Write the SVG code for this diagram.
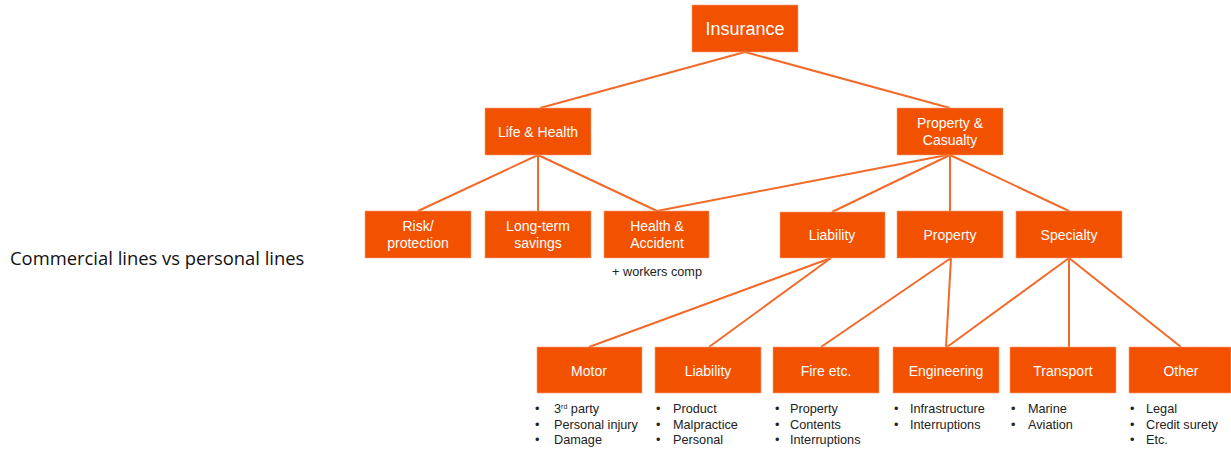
<svg xmlns="http://www.w3.org/2000/svg" width="1231" height="450" viewBox="0 0 1231 450">
<style>
.box{fill:#F25100;stroke:#F5A07A;stroke-width:0.6}
.t{font-family:"Liberation Sans",Arial,sans-serif;font-size:14px;fill:#ffffff;text-anchor:middle}
.big{font-size:18px}
.b{font-family:"Liberation Sans",Arial,sans-serif;font-size:12.7px;fill:#222222}
.c line{stroke:#F26A2A;stroke-width:2}
</style>
<rect width="1231" height="450" fill="#ffffff"/>
<text x="10" y="265" style="font-family:'Open Sans',sans-serif;font-size:18.4px;fill:#111111">Commercial lines vs personal lines</text>
<g class="c" id="connectors">
<line x1="745" y1="52" x2="540" y2="108"/>
<line x1="745" y1="52" x2="950" y2="108"/>
<line x1="538" y1="155" x2="418" y2="211"/>
<line x1="538" y1="155" x2="538" y2="211"/>
<line x1="538" y1="155" x2="657" y2="211"/>
<line x1="947" y1="155" x2="657" y2="211"/>
<line x1="950" y1="155" x2="832" y2="212"/>
<line x1="950" y1="155" x2="950" y2="211"/>
<line x1="950" y1="155" x2="1069" y2="211"/>
<line x1="831" y1="258" x2="589" y2="347"/>
<line x1="831" y1="258" x2="709" y2="347"/>
<line x1="951" y1="258" x2="821" y2="347"/>
<line x1="951" y1="258" x2="946" y2="347"/>
<line x1="1069" y1="258" x2="947" y2="347"/>
<line x1="1069" y1="258" x2="1069" y2="347"/>
<line x1="1069" y1="258" x2="1181" y2="347"/>
</g>
<g id="insurance"><rect class="box" x="692" y="5" width="106" height="47"/><text class="t big" x="745" y="35">Insurance</text></g>
<g id="life-health"><rect class="box" x="485" y="108" width="106" height="47"/><text class="t" x="538" y="137">Life &amp; Health</text></g>
<g id="property-casualty"><rect class="box" x="897" y="108" width="106" height="47"/><text class="t" x="950" y="128">Property &amp;</text><text class="t" x="950" y="145">Casualty</text></g>
<g id="risk"><rect class="box" x="365" y="211" width="106" height="47"/><text class="t" x="418" y="231">Risk/</text><text class="t" x="418" y="248">protection</text></g>
<g id="long-term"><rect class="box" x="485" y="211" width="106" height="47"/><text class="t" x="538" y="231">Long-term</text><text class="t" x="538" y="248">savings</text></g>
<g id="health-accident"><rect class="box" x="604" y="211" width="105" height="47"/><text class="t" x="657" y="231">Health &amp;</text><text class="t" x="657" y="248">Accident</text><text class="b" x="657" y="276" text-anchor="middle">+ workers comp</text></g>
<g id="liability-pc"><rect class="box" x="780" y="212" width="105" height="46"/><text class="t" x="832" y="240">Liability</text></g>
<g id="property"><rect class="box" x="897" y="211" width="106" height="47"/><text class="t" x="950" y="240">Property</text></g>
<g id="specialty"><rect class="box" x="1016" y="211" width="106" height="47"/><text class="t" x="1069" y="240">Specialty</text></g>
<g id="motor"><rect class="box" x="537" y="347" width="105" height="46"/><text class="t" x="589" y="376">Motor</text>
<text class="b" x="535" y="413">•</text><text class="b" x="554" y="413">3<tspan font-size="7" dy="-4">rd</tspan><tspan dy="4"> party</tspan></text>
<text class="b" x="535" y="429">•</text><text class="b" x="554" y="429">Personal injury</text>
<text class="b" x="535" y="444">•</text><text class="b" x="554" y="444">Damage</text></g>
<g id="liability"><rect class="box" x="655" y="347" width="106" height="46"/><text class="t" x="708" y="376">Liability</text>
<text class="b" x="656" y="413">•</text><text class="b" x="673" y="413">Product</text>
<text class="b" x="656" y="429">•</text><text class="b" x="673" y="429">Malpractice</text>
<text class="b" x="656" y="444">•</text><text class="b" x="673" y="444">Personal</text></g>
<g id="fire"><rect class="box" x="773" y="347" width="106" height="46"/><text class="t" x="826" y="376">Fire etc.</text>
<text class="b" x="775" y="413">•</text><text class="b" x="790" y="413">Property</text>
<text class="b" x="775" y="429">•</text><text class="b" x="790" y="429">Contents</text>
<text class="b" x="775" y="444">•</text><text class="b" x="790" y="444">Interruptions</text></g>
<g id="engineering"><rect class="box" x="893" y="347" width="106" height="46"/><text class="t" x="946" y="376">Engineering</text>
<text class="b" x="894" y="413">•</text><text class="b" x="910" y="413">Infrastructure</text>
<text class="b" x="894" y="429">•</text><text class="b" x="910" y="429">Interruptions</text></g>
<g id="transport"><rect class="box" x="1010" y="347" width="106" height="46"/><text class="t" x="1063" y="376">Transport</text>
<text class="b" x="1011" y="413">•</text><text class="b" x="1028" y="413">Marine</text>
<text class="b" x="1011" y="429">•</text><text class="b" x="1028" y="429">Aviation</text></g>
<g id="other"><rect class="box" x="1129" y="347" width="102" height="46"/><text class="t" x="1181" y="376">Other</text>
<text class="b" x="1130" y="413">•</text><text class="b" x="1146" y="413">Legal</text>
<text class="b" x="1130" y="429">•</text><text class="b" x="1146" y="429">Credit surety</text>
<text class="b" x="1130" y="444">•</text><text class="b" x="1146" y="444">Etc.</text></g>
</svg>
